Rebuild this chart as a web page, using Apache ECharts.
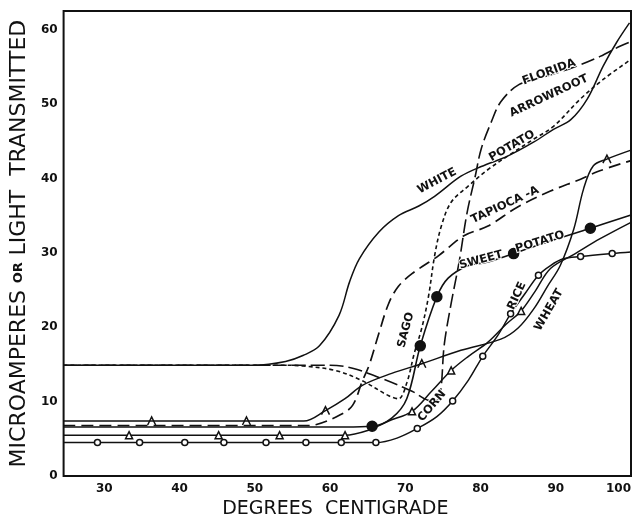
<!DOCTYPE html>
<html>
<head>
<meta charset="utf-8">
<script src="https://cdn.jsdelivr.net/npm/echarts@6/dist/echarts.min.js"></script>
<style>
  html, body { margin: 0; padding: 0; background: #fff; }
  #chart { width: 638px; height: 524px; }
</style>
</head>
<body>
<div id="chart"></div>
<script>
// Tick labels
const xTicks = [30, 40, 50, 60, 70, 80, 90, 100];
const yTicks = [0, 10, 20, 30, 40, 50, 60];

// Curves: [degrees C, microamperes]
const whitePotato = [[24.6,14.9],[50,14.9],[54.1,15.4],[56.4,16.2],[58.6,17.5],[61.2,21.6],[62.6,26.1],[63.9,29.2],[66.5,32.8],[69.1,35.0],[71.8,36.3],[73.9,37.6],[77.4,40.3],[80.1,41.6],[83.6,43.0],[87.1,44.9],[89.7,46.6],[92.0,47.9],[94.2,50.7],[96.3,55.1],[98.1,58.3],[99.8,60.9]];
const sago = [[24.6,14.9],[54,14.9],[56.4,14.8],[60.7,14.2],[64.3,12.8],[67.8,10.8],[69.1,10.4],[70.2,12.5],[71.2,16.5],[72.2,19.9],[73.1,24.2],[73.9,29.6],[74.8,33.6],[76.1,36.8],[78.4,39.0],[81.0,41.2],[83.6,43.0],[87.1,45.3],[89.7,47.0],[93.3,50.7],[96.3,53.3],[100,56.0]];
const floridaArrowroot = [[24.6,14.9],[60,14.9],[63,14.5],[66.9,13.1],[70.9,11.4],[73.5,10.1],[74.5,10.4],[75.2,17.8],[76.1,23.2],[77.2,29.0],[78.2,35.3],[79.3,40.3],[80.1,44.0],[81.4,47.5],[82.7,50.3],[85.1,52.6],[88.6,53.7],[92.3,54.9],[95.9,56.4],[98.6,57.8],[100,58.4]];
const tapiocaA = [[24.6,6.8],[57,6.8],[58.1,6.9],[61.3,8.2],[63,9.5],[64.3,12.8],[65.2,14.9],[66.5,19.2],[67.8,23.2],[69.1,25.5],[70.9,27.2],[74.4,29.6],[77.8,32.3],[81.0,33.6],[85,36.2],[89.3,38.3],[93.3,39.9],[95.5,40.9],[100,42.4]];
const sweetPotato = [[24.6,6.6],[62,6.6],[65.6,6.7],[68.2,7.8],[70.2,10.4],[72.0,17.5],[74.2,24.1],[75.7,26.6],[78.4,28.3],[80.7,28.7],[84.4,29.9],[89.3,31.6],[94.6,33.3],[100,35.1]];
const sweetPotatoMarks = [[65.6,6.7],[72.0,17.5],[74.2,24.1],[84.4,29.9],[94.6,33.3]];
const corn = [[24.6,5.5],[62,5.5],[65.2,6.2],[67.8,7.4],[70.9,8.7],[73.5,11.4],[76.1,14.2],[78.4,16.1],[81.0,18.0],[83.4,20.4],[85.4,22.2],[87.3,24.9],[89.3,27.9],[92.6,29.9],[95.9,31.9],[100,34.1]];
const cornMarks = [[33.3,5.5],[45.2,5.5],[53.3,5.5],[62.0,5.5],[70.9,8.7],[76.1,14.2],[85.4,22.2]];
const rice = [[24.6,4.5],[66.1,4.5],[68.9,5.1],[71.6,6.4],[74.2,8.0],[76.3,10.1],[78.4,12.9],[80.3,16.1],[82.3,18.9],[84.0,21.8],[85.9,24.5],[87.7,27.0],[89.3,28.3],[91.0,29.2],[93.3,29.5],[97.5,29.9],[100,30.1]];
const riceMarks = [[29.1,4.5],[34.7,4.5],[40.7,4.5],[45.9,4.5],[51.5,4.5],[56.8,4.5],[61.5,4.5],[66.1,4.5],[71.6,6.4],[76.3,10.1],[80.3,16.1],[84.0,21.8],[87.7,27.0],[93.3,29.5],[97.5,29.9]];
const wheat = [[24.6,7.4],[56.5,7.4],[59.4,8.8],[62.0,10.4],[64.3,12.2],[68.2,13.8],[72.2,15.1],[77.4,16.9],[82.7,18.4],[85.0,19.9],[87.1,22.5],[88.9,25.5],[90.6,28.3],[92.4,33.2],[93.7,38.6],[95.0,41.7],[96.8,42.6],[100,43.8]];
const wheatMarks = [[36.3,7.4],[48.9,7.4],[59.4,8.8],[72.2,15.1],[96.8,42.6]];

const INK = '#111';
const FONT = 'DejaVu Sans';

function curve(data, dash, width) {
  return {
    type: 'line', data: data, smooth: 0.35, symbol: 'none', silent: true,
    lineStyle: { color: INK, width: width || 1.6, type: dash || 'solid' },
    z: 2
  };
}
function marks(data, symbol, size, fill) {
  return {
    type: 'scatter', data: data, symbol: symbol, symbolSize: size, silent: true,
    itemStyle: { color: fill, borderColor: INK, borderWidth: 1.5, opacity: 1 },
    z: 5
  };
}

// Curve names written along the lines
const curveNames = [
  { t: 'WHITE', x: 437, y: 181, a: 28 },
  { t: 'POTATO', x: 512, y: 146, a: 30 },
  { t: 'FLORIDA', x: 549, y: 72, a: 20 },
  { t: 'ARROWROOT', x: 549, y: 96, a: 25 },
  { t: 'TAPIOCA -A', x: 505, y: 205, a: 25 },
  { t: 'SWEET', x: 481, y: 260, a: 15 },
  { t: 'POTATO', x: 540, y: 242, a: 17 },
  { t: 'SAGO', x: 406, y: 330, a: 75 },
  { t: 'CORN', x: 432, y: 406, a: 50 },
  { t: 'RICE', x: 517, y: 296, a: 65 },
  { t: 'WHEAT', x: 549, y: 310, a: 60 }
];

const chart = echarts.init(document.getElementById('chart'), null, { renderer: 'canvas' });
chart.setOption({
  animation: false,
  backgroundColor: '#fff',
  grid: { left: 59, right: 7, top: 11, bottom: 36, show: true, borderColor: INK, borderWidth: 2, backgroundColor: 'transparent' },
  xAxis: {
    type: 'value', min: 24.6, max: 100,
    name: 'DEGREES  CENTIGRADE', nameLocation: 'middle', nameGap: 21,
    nameTextStyle: { fontFamily: FONT, fontSize: 19, color: INK, padding: [0, 24, 0, 0] },
    axisLine: { show: false }, axisTick: { show: false }, splitLine: { show: false },
    axisLabel: { customValues: xTicks, margin: 7, fontFamily: FONT, fontWeight: 'bold', fontSize: 12, color: INK, alignMaxLabel: 'right' }
  },
  yAxis: {
    type: 'value', min: 0, max: 62.5,
    name: '{a|MICROAMPERES}  {b|OR}  {a|LIGHT  TRANSMITTED}', nameLocation: 'middle', nameGap: 33, nameRotate: 90,
    nameTextStyle: { rich: { a: { fontFamily: FONT, fontSize: 22, color: INK }, b: { fontFamily: FONT, fontSize: 13, fontWeight: 'bold', color: INK } } },
    axisLine: { show: false }, axisTick: { show: false }, splitLine: { show: false },
    axisLabel: { customValues: yTicks, margin: 6, fontFamily: FONT, fontWeight: 'bold', fontSize: 12, color: INK }
  },
  series: [
    curve(whitePotato, 'solid', 1.5),
    curve(sago, [4, 3], 1.6),
    curve(floridaArrowroot, [14, 5], 1.6),
    curve(tapiocaA, [12, 6], 1.7),
    curve(sweetPotato, 'solid', 1.6),
    curve(corn, 'solid', 1.5),
    curve(rice, 'solid', 1.5),
    curve(wheat, 'solid', 1.5),
    marks(sweetPotatoMarks, 'circle', 10, INK),
    marks(cornMarks, 'triangle', 7, '#fff'),
    marks(riceMarks, 'circle', 6, '#fff'),
    marks(wheatMarks, 'path://M0,10 L5,0 L10,10', 8, 'rgba(0,0,0,0)')
  ],
  graphic: curveNames.map(n => ({
    type: 'text', x: n.x, y: n.y, rotation: n.a * Math.PI / 180, z: 10, silent: true,
    style: { text: n.t, fill: INK, font: 'bold 11.5px "DejaVu Sans"', align: 'center', verticalAlign: 'middle',
      stroke: '#fff', lineWidth: 2 }
  }))
});
</script>
</body>
</html>
